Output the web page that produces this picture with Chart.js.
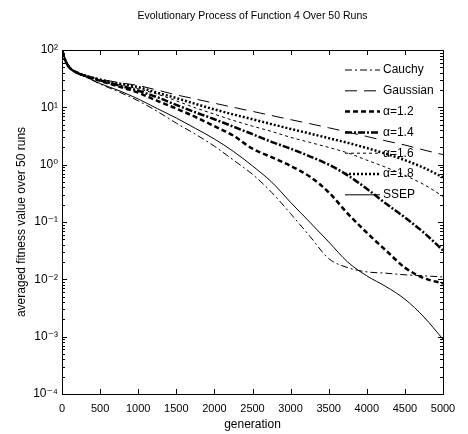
<!DOCTYPE html>
<html>
<head>
<meta charset="utf-8">
<style>
  html, body { margin: 0; padding: 0; background: #fff; }
  #wrap { width: 468px; height: 434px; }
</style>
<script src="https://cdn.jsdelivr.net/npm/chart.js@4.4.1/dist/chart.umd.min.js"></script>
</head>
<body>
<div id="wrap"><canvas id="c" width="468" height="434"></canvas></div>
<script>
// ---- data ----
const generations = [0,20,50,100,200,300,500,750,1000,1250,1500,1750,2000,2250,2500,2750,3000,3250,3500,3750,4000,4250,4500,4750,5000];
const cauchy   = [100,82,63,49,39.5,34.5,25.5,18.5,13,8.5,5.3,3.4,2.1,1.2,0.68,0.33,0.14,0.057,0.023,0.016,0.0135,0.0128,0.012,0.0115,0.011];
const gaussian = [100,82,63,49,40.5,36,31,27,24,20,16.5,14,11.8,10,8.5,7.2,6.1,5.2,4.4,3.7,3.1,2.6,2.2,1.8,1.5];
const alpha12  = [100,82,63,49,40,35.5,29,23,18,13,9.5,6.8,4.7,3.2,1.9,1.35,0.95,0.62,0.33,0.14,0.065,0.032,0.016,0.0105,0.0085];
const alpha14  = [100,82,63,49,40,35.5,29.5,24,19.5,15,11,8.2,6.2,4.6,3.4,2.5,1.9,1.4,1.0,0.65,0.38,0.21,0.12,0.065,0.032];
const alpha16  = [100,82,63,49,40,35.5,30,25,21,17,13,9.8,7.6,5.9,4.7,3.8,3.0,2.45,2.0,1.6,1.2,0.9,0.65,0.45,0.28];
const alpha18  = [100,82,63,49,40.5,36,30.5,26,22.5,18,14.5,11.5,9.2,7.5,6.2,5.1,4.2,3.5,2.9,2.4,1.95,1.55,1.2,0.88,0.6];
const ssep     = [100,82,63,49,39.5,34.5,26,19.5,14,9.5,6.5,4.3,2.8,1.7,0.95,0.5,0.22,0.1,0.045,0.02,0.0115,0.0075,0.0045,0.0022,0.0009];

const seriesNames = ['Cauchy','Gaussian','\u03b1=1.2','\u03b1=1.4','\u03b1=1.6','\u03b1=1.8','SSEP'];
const xTickValues = [0,500,1000,1500,2000,2500,3000,3500,4000,4500,5000];
const xTickLabels = ['0','500','1000','1500','2000','2500','3000','3500','4000','4500','5000'];
const yTickValues = [1e-4,1e-3,1e-2,1e-1,1,10,100];
const yTickLabels = ['10\u207b\u2074','10\u207b\u00b3','10\u207b\u00b2','10\u207b\u00b9','10\u2070','10\u00b9','10\u00b2'];

const FONT = "'Liberation Sans','DejaVu Sans',Arial,sans-serif";

const styles = [
  {w:1,   dash:[7,3,2,3]},
  {w:1,   dash:[12,7]},
  {w:2.5, dash:[5,3]},
  {w:2.5, dash:[7,2,2,2]},
  {w:1,   dash:[3,3]},
  {w:2.5, dash:[2,2]},
  {w:1,   dash:[]}
];
const allSeries = [cauchy, gaussian, alpha12, alpha14, alpha16, alpha18, ssep];

const datasets = allSeries.map((vals, i) => ({
  label: seriesNames[i],
  data: generations.map((g, j) => ({x: g, y: vals[j]})),
  borderColor: '#000',
  borderWidth: styles[i].w,
  borderDash: styles[i].dash,
  pointRadius: 0,
  fill: false,
  cubicInterpolationMode: 'monotone'
}));

// frame, inward ticks (major + minor) and in-plot legend
const framePlugin = {
  id: 'frame',
  afterDatasetsDraw(chart) {
    const {ctx, chartArea: a, scales: {x, y}} = chart;
    ctx.save();
    ctx.strokeStyle = '#000';
    ctx.lineWidth = 1;
    ctx.setLineDash([]);
    ctx.strokeRect(Math.round(a.left) + 0.5, Math.round(a.top) + 0.5,
                   Math.round(a.right - a.left), Math.round(a.bottom - a.top));
    ctx.beginPath();
    xTickValues.forEach(v => {
      const px = Math.round(x.getPixelForValue(v)) + 0.5;
      ctx.moveTo(px, a.bottom); ctx.lineTo(px, a.bottom - 5);
      ctx.moveTo(px, a.top); ctx.lineTo(px, a.top + 5);
    });
    for (let e = -4; e <= 2; e++) {
      for (let m = 1; m <= 9; m++) {
        const v = m * Math.pow(10, e);
        if (e === 2 && m > 1) continue;
        const py = Math.round(y.getPixelForValue(v)) + 0.5;
        const len = m === 1 ? 5 : 3;
        ctx.moveTo(a.left, py); ctx.lineTo(a.left + len, py);
        ctx.moveTo(a.right, py); ctx.lineTo(a.right - len, py);
      }
    }
    ctx.stroke();

    // legend
    const lx0 = 345, lx1 = 380, tx = 383, ly0 = 70, dy = 20.8;
    ctx.font = '12px ' + FONT;
    ctx.textBaseline = 'middle';
    ctx.textAlign = 'left';
    ctx.fillStyle = '#000';
    chart.data.datasets.forEach((ds, i) => {
      const yy = ly0 + i * dy;
      ctx.beginPath();
      ctx.lineWidth = ds.borderWidth;
      ctx.setLineDash(ds.borderDash);
      ctx.moveTo(lx0, yy); ctx.lineTo(lx1, yy);
      ctx.stroke();
      ctx.fillText(ds.label, tx, yy);
    });
    ctx.restore();
  }
};

Chart.defaults.font.family = FONT;
Chart.defaults.color = '#000';

new Chart(document.getElementById('c'), {
  type: 'line',
  data: { datasets },
  options: {
    responsive: false,
    animation: false,
    devicePixelRatio: 1,
    layout: { padding: { left: 0, right: 25, top: 0, bottom: 0 } },
    plugins: {
      legend: { display: false },
      tooltip: { enabled: false },
      title: {
        display: true,
        fullSize: false,
        text: 'Evolutionary Process of Function 4 Over 50 Runs',
        font: { size: 10.5, weight: 'normal' },
        color: '#000',
        padding: { top: 10, bottom: 27.4 }
      }
    },
    scales: {
      x: {
        type: 'linear',
        min: 0, max: 5000,
        afterFit(s) { s.height = 40; },
        afterBuildTicks(s) { s.ticks = xTickValues.map(v => ({value: v})); },
        grid: { display: false, drawTicks: false },
        border: { display: false },
        ticks: {
          padding: 8,
          font: { size: 11 },
          maxRotation: 0,
          autoSkip: false,
          callback: (v) => { const i = xTickValues.indexOf(v); return i >= 0 ? xTickLabels[i] : ''; }
        },
        title: { display: true, text: 'generation', font: { size: 12 }, padding: { top: 0, bottom: 2 } }
      },
      y: {
        type: 'logarithmic',
        min: 1e-4, max: 100,
        afterFit(s) { s.width = 62; },
        afterBuildTicks(s) { s.ticks = yTickValues.map(v => ({value: v, major: true})); },
        grid: { display: false, drawTicks: false },
        border: { display: false },
        ticks: {
          padding: 4,
          font: { size: 12 },
          autoSkip: false,
          callback: (v) => {
            const e = Math.round(Math.log10(v));
            const i = yTickValues.findIndex(t => Math.round(Math.log10(t)) === e);
            return i >= 0 ? yTickLabels[i] : '';
          }
        },
        title: { display: true, text: 'averaged fitness value over 50 runs', font: { size: 12 }, padding: { top: 14, bottom: 14 } }
      }
    }
  },
  plugins: [framePlugin]
});
</script>
</body>
</html>
